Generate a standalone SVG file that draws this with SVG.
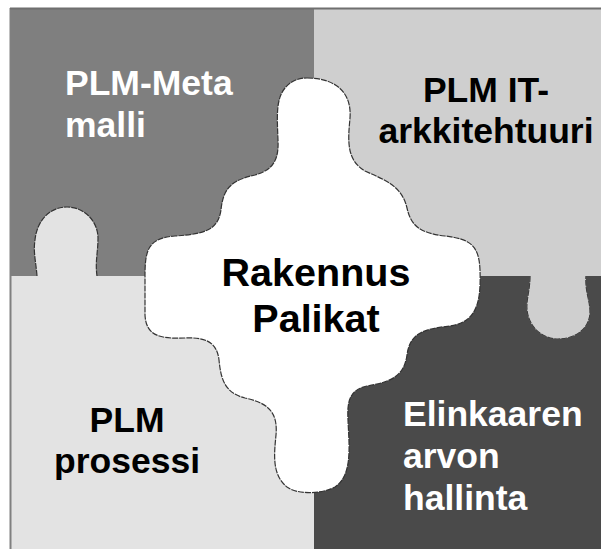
<svg xmlns="http://www.w3.org/2000/svg" width="601" height="549" viewBox="0 0 601 549">
<style>
.t{font-family:"Liberation Sans",Arial,sans-serif;font-weight:bold;font-size:35.5px}
.w{fill:#ffffff}
.k{fill:#000000}
.edge{stroke:#333333;stroke-width:1.2;stroke-dasharray:6 1;fill:none}
</style>
<rect x="0" y="0" width="601" height="549" fill="#ffffff"/>
<g id="piece-meta">
<rect x="11" y="8" width="303" height="268" fill="#7f7f7f"/>
<text class="t w" x="65" y="95">PLM-Meta</text>
<text class="t w" x="65" y="137">malli</text>
</g>
<g id="piece-it">
<rect x="314" y="8" width="287" height="268" fill="#cfcfcf"/>
<path d="M530,275 C530,290 526,300 527,310 C529,328 543,339 558,339 C576,339 590,328 590,312 C590,300 585,292 586,275 Z" fill="#cfcfcf"/>
<path class="edge" d="M530,276 C530,290 526,300 527,310 C529,328 543,339 558,339 C576,339 590,328 590,312 C590,300 585,292 586,276"/>
<text class="t k" x="486" y="102" text-anchor="middle">PLM IT-</text>
<text class="t k" x="486" y="143" text-anchor="middle">arkkitehtuuri</text>
</g>
<g id="piece-prosessi">
<rect x="11" y="276" width="303" height="273" fill="#e3e3e3"/>
<path d="M37,277 C36,262 33,252 35,240 C37,220 50,207 67,207 C85,207 98,222 98,238 C98,252 95,262 97,277 Z" fill="#e3e3e3"/>
<path class="edge" d="M37,276 C36,262 33,252 35,240 C37,220 50,207 67,207 C85,207 98,222 98,238 C98,252 95,262 97,276"/>
<text class="t k" x="127" y="432" text-anchor="middle">PLM</text>
<text class="t k" x="127" y="473" text-anchor="middle">prosessi</text>
</g>
<g id="piece-elinkaari">
<path d="M314,276 H530 C530,290 526,300 527,310 C529,328 543,339 558,339 C576,339 590,328 590,312 C590,300 585,292 586,276 H601 V549 H314 Z" fill="#4a4a4a"/>
<text class="t w" x="403" y="426">Elinkaaren</text>
<text class="t w" x="403" y="468">arvon</text>
<text class="t w" x="403" y="510">hallinta</text>
</g>
<g id="border">
<line x1="10.5" y1="8" x2="10.5" y2="549" stroke="#808080" stroke-width="2"/>
<line x1="10" y1="8.5" x2="601" y2="8.5" stroke="#6f6f6f" stroke-width="2"/>
</g>
<g id="center-rakennus">
<path d="M307,78 C335,78 352,92 350,118 C348,140 346,160 365,171 C385,180 402,186 407,208 C411,226 420,233 445,236 C470,239 479,245 480,270 C481,300 478,322 450,326 C425,329 410,332 407,355 C404,377 390,382 367,386 C350,390 347,400 348,420 C349,445 353,475 335,487 C322,494 298,495 287,487 C272,475 274,455 276,435 C278,412 268,403 245,398 C225,393 221,380 219,360 C217,343 207,337 185,338 C160,339 146,336 145,315 L145,276 C145,250 148,238 175,236 C205,234 218,230 221,210 C223,188 232,180 255,175 C273,170 279,160 278,140 C277,115 276,99 285,88 C291,81 298,78 307,78 Z" fill="#ffffff" stroke="#333333" stroke-width="1.2" stroke-dasharray="6 1"/>
<text class="t k" x="316" y="286" text-anchor="middle" style="font-size:39.5px">Rakennus</text>
<text class="t k" x="316" y="332" text-anchor="middle" style="font-size:39.5px">Palikat</text>
</g>
</svg>
